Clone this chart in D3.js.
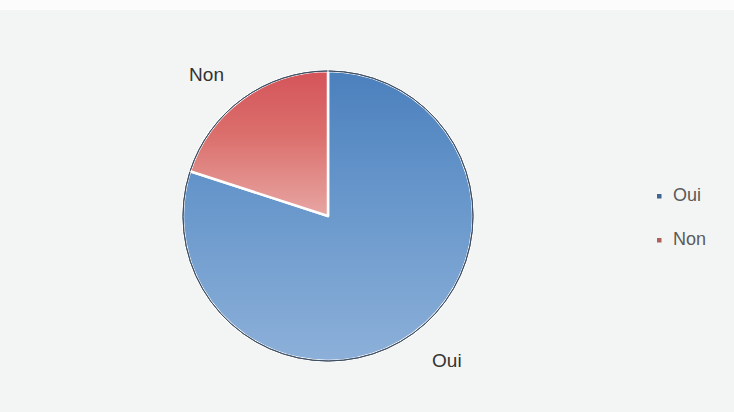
<!DOCTYPE html>
<html>
<head>
<meta charset="utf-8">
<script src="https://cdn.jsdelivr.net/npm/d3@7"></script>
<style>
  html, body { margin: 0; padding: 0; background: #f3f5f4; }
  svg { display: block; }
  text { font-family: "Liberation Sans", Arial, sans-serif; }
</style>
</head>
<body>
<svg id="chart" width="734" height="412"></svg>
<script>
// Survey answers
const categories = ["Oui", "Non"];
const values = [80, 20];

const W = 734, H = 412;
const cx = 328, cy = 216, R = 145;

const svg = d3.select("#chart");

// soft page with a white strip across the top
svg.append("rect").attr("width", W).attr("height", H).attr("fill", "#f3f5f4");
svg.append("rect").attr("width", W).attr("height", 10).attr("fill", "#fbfcfb");

const defs = svg.append("defs");
const gradStops = {
  Oui: [["0%", "#4b80bd"], ["40%", "#6595ca"], ["100%", "#8cb0d9"]],
  Non: [["0%", "#d4545a"], ["22%", "#db6f6c"], ["50%", "#e7a6a3"], ["100%", "#f0c4c0"]]
};
categories.forEach(c => {
  const g = defs.append("linearGradient")
    .attr("id", "grad-" + c)
    .attr("gradientUnits", "userSpaceOnUse")
    .attr("x1", 0).attr("y1", -R)
    .attr("x2", 0).attr("y2", R);
  gradStops[c].forEach(([o, col]) => g.append("stop").attr("offset", o).attr("stop-color", col));
});

const color = d3.scaleOrdinal().domain(categories).range(["#3f6591", "#b0605a"]);

const pie = d3.pie().sort(null).value(d => d.v);
const data = categories.map((c, i) => ({ c, v: values[i] }));
const arcs = pie(data);

const arc = d3.arc().innerRadius(0).outerRadius(R);
const labelArc = d3.arc().innerRadius(177).outerRadius(177);

const g = svg.append("g").attr("transform", `translate(${cx},${cy})`);

g.selectAll("path.slice")
  .data(arcs)
  .join("path")
  .attr("class", "slice")
  .attr("d", arc)
  .attr("fill", d => `url(#grad-${d.data.c})`)
  .attr("stroke", "#ffffff")
  .attr("stroke-width", 2.5)
  .attr("stroke-linejoin", "round");

// thin dark rim along the outer edge of each slice
const rim = d3.arc().innerRadius(R).outerRadius(R);
g.selectAll("path.rim")
  .data(arcs)
  .join("path")
  .attr("class", "rim")
  .attr("d", d => rim({ startAngle: d.startAngle + 0.004, endAngle: d.endAngle - 0.004 }))
  .attr("fill", "none")
  .attr("stroke", "#3f4f63")
  .attr("stroke-width", 1);

// outside labels, anchored away from the pie
g.selectAll("text.lbl")
  .data(arcs)
  .join("text")
  .attr("class", "lbl")
  .attr("transform", d => {
    const [x, y] = labelArc.centroid(d);
    return `translate(${x},${y + 3})`;
  })
  .attr("text-anchor", d => ((d.startAngle + d.endAngle) / 2 > Math.PI ? "end" : "start"))
  .attr("dominant-baseline", "middle")
  .attr("font-size", 19)
  .attr("fill", "#333")
  .text(d => d.data.c);

// legend
const legend = svg.append("g").attr("transform", "translate(657,196)");
const items = legend.selectAll("g")
  .data(categories)
  .join("g")
  .attr("transform", (d, i) => `translate(0,${i * 44})`);
items.append("rect")
  .attr("x", 0).attr("y", -2)
  .attr("width", 4.5).attr("height", 4.5)
  .attr("fill", d => color(d));
items.append("text")
  .attr("x", 16).attr("y", 0)
  .attr("dominant-baseline", "middle")
  .attr("font-size", 18)
  .attr("fill", "#5a5a5a")
  .text(d => d);
</script>
</body>
</html>
